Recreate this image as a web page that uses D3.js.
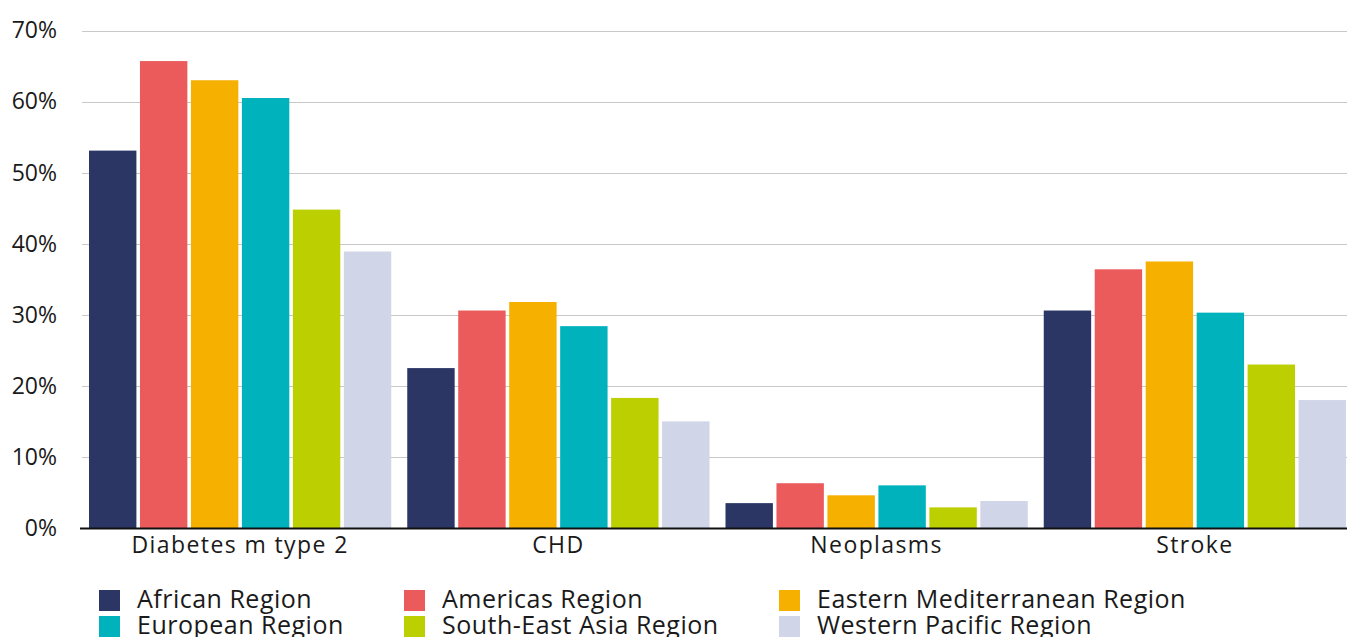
<!DOCTYPE html>
<html lang="en">
<head>
<meta charset="utf-8" />
<title>Grouped bar chart</title>
<style>
  body { margin: 0; background: #fff; }
  svg { display: block; font-family: "Open Sans", Lato, sans-serif; }
</style>
</head>
<body>
<div id="chart"></div>
<script src="https://d3js.org/d3.v7.min.js"></script>
<script>
const categories = ["Diabetes m type 2", "CHD", "Neoplasms", "Stroke"];
const regions = ["African Region", "Americas Region", "Eastern Mediterranean Region",
                 "European Region", "South-East Asia Region", "Western Pacific Region"];
const regionColors = ["#2b3664", "#eb5b5c", "#f5b000", "#00b2bc", "#bccf00", "#d0d5e7"];

// percent values per region, in the order of categories
const african      = [53.1, 22.5, 3.5, 30.6];
const americas     = [65.7, 30.6, 6.3, 36.4];
const easternMed   = [63.0, 31.8, 4.6, 37.5];
const european     = [60.5, 28.4, 6.0, 30.3];
const southEastAsia = [44.8, 18.3, 2.9, 23.0];
const westernPacific = [38.9, 15.0, 3.8, 18.0];
const seriesValues = [african, americas, easternMed, european, southEastAsia, westernPacific];

const yTicks = [0, 10, 20, 30, 40, 50, 60, 70];

const width = 1347, height = 637;
const svg = d3.select("#chart").append("svg")
    .attr("width", width)
    .attr("height", height);

const x0 = d3.scaleBand()
    .domain(categories)
    .range([81, 1354])
    .padding(0);

const x1 = d3.scaleBand()
    .domain(regions)
    .range([8, x0.bandwidth() - 8])
    .paddingInner(0.07);

const y = d3.scaleLinear()
    .domain([0, 70])
    .range([528, 30.5]);

// gridlines
svg.append("g")
    .selectAll("line")
    .data(yTicks.filter(d => d > 0))
    .enter().append("line")
    .attr("x1", 82)
    .attr("x2", width)
    .attr("y1", d => Math.round(y(d)) + 0.5)
    .attr("y2", d => Math.round(y(d)) + 0.5)
    .attr("stroke", "#c8c8c8")
    .attr("stroke-width", 1.2);

// y tick labels
const yAxis = svg.append("g")
    .attr("transform", "translate(57,0)")
    .call(d3.axisLeft(y).tickValues(yTicks).tickSize(0).tickPadding(0).tickFormat(d => d + "%"));
yAxis.select(".domain").remove();
yAxis.selectAll("text")
    .attr("font-size", 23)
    .attr("font-family", "'Open Sans', sans-serif")
    .attr("fill", "#1a1a1a");

// bars
const groups = svg.append("g")
    .selectAll("g")
    .data(categories)
    .enter().append("g")
    .attr("transform", d => `translate(${x0(d)},0)`);

groups.selectAll("rect")
    .data((c, ci) => regions.map((r, ri) => ({ region: r, value: seriesValues[ri][ci], color: regionColors[ri] })))
    .enter().append("rect")
    .attr("x", d => x1(d.region))
    .attr("y", d => y(d.value))
    .attr("width", x1.bandwidth())
    .attr("height", d => y(0) - y(d.value))
    .attr("fill", d => d.color);

// baseline
svg.append("line")
    .attr("x1", 80)
    .attr("x2", width)
    .attr("y1", y(0) + 0.5)
    .attr("y2", y(0) + 0.5)
    .attr("stroke", "#111")
    .attr("stroke-width", 2);

// category labels
const xAxis = svg.append("g")
    .attr("transform", `translate(0,${y(0)})`)
    .call(d3.axisBottom(x0).tickSize(0).tickPadding(9));
xAxis.select(".domain").remove();
xAxis.selectAll("text")
    .attr("font-size", 23)
    .attr("font-family", "'Open Sans', sans-serif")
    .attr("letter-spacing", 1.4)
    .attr("fill", "#1a1a1a");

// legend
const legendCols = [99, 404, 779];
const legend = svg.append("g")
    .selectAll("g")
    .data(regions)
    .enter().append("g")
    .attr("transform", (d, i) => `translate(${legendCols[i % 3]},${590 + Math.floor(i / 3) * 26})`);

legend.append("rect")
    .attr("width", 21)
    .attr("height", 21)
    .attr("fill", (d, i) => regionColors[i]);

legend.append("text")
    .attr("x", 38)
    .attr("y", 18)
    .attr("font-size", 25)
    .attr("letter-spacing", 0.5)
    .attr("fill", "#1a1a1a")
    .text(d => d);
</script>
</body>
</html>
